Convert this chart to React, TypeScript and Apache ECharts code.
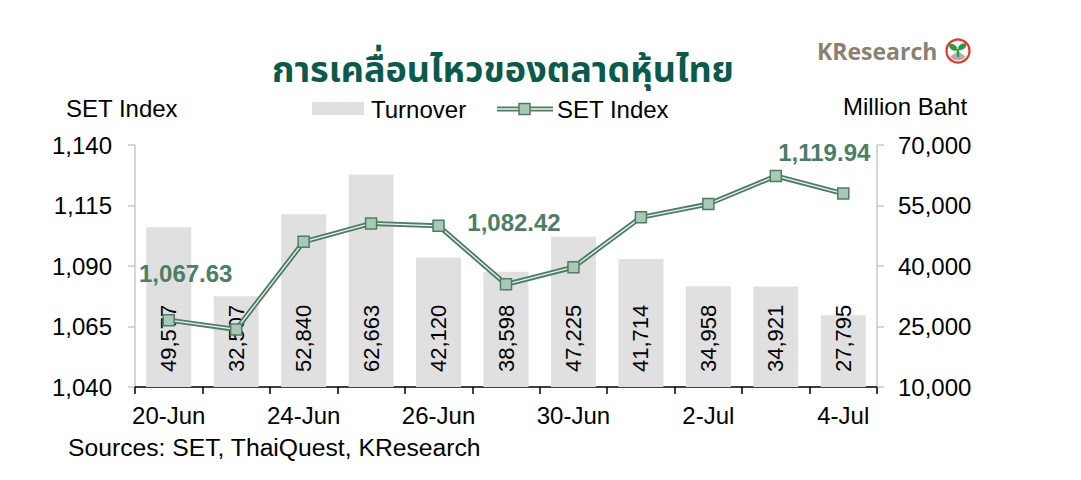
import React, { useEffect, useRef } from "react";
import * as echarts from "echarts";

const categories = ["20-Jun", "21-Jun", "24-Jun", "25-Jun", "26-Jun", "27-Jun", "30-Jun", "1-Jul", "2-Jul", "3-Jul", "4-Jul"];
const turnover = [49577, 32507, 52840, 62663, 42120, 38598, 47225, 41714, 34958, 34921, 27795];
const setIndex = [1067.63, 1063.8, 1100.0, 1107.6, 1106.6, 1082.42, 1089.5, 1110.1, 1115.6, 1127.2, 1119.94];
const labeledPoints = [0, 5, 10];
const labelOffsets = [[17, -47], [8, -62], [-19, -41]];

const leftTicks = { min: 1040, max: 1140, interval: 25 };
const rightTicks = { min: 10000, max: 70000, interval: 15000 };

const FONT = "'Liberation Sans', Arial, sans-serif";
const GREEN = "#4e7d66";
const MARK_FILL = "#a9c9b6";
const BAR = "#e0e0e0";

function fmt(v: number, d = 0) {
  return v.toLocaleString("en-US", { minimumFractionDigits: d, maximumFractionDigits: d });
}

export default function App() {
  const ref = useRef<HTMLDivElement>(null);
  useEffect(() => {
    if (!ref.current) return;
    const chart = echarts.init(ref.current, null, { renderer: "svg" });

    const lineData = setIndex.map((v, i) => {
      const k = labeledPoints.indexOf(i);
      if (k < 0) return v;
      return {
        value: v,
        label: {
          show: true,
          position: "inside",
          offset: labelOffsets[k],
          formatter: () => fmt(v, 2),
          color: GREEN,
          fontWeight: "bold",
          fontSize: 24,
          fontFamily: FONT,
        },
      };
    });

    chart.setOption({
      animation: false,
      backgroundColor: "#ffffff",
      grid: { left: 135, right: 204, top: 145, bottom: 93, containLabel: false },
      xAxis: {
        type: "category",
        data: categories,
        axisLine: { lineStyle: { color: "#000", width: 1.5 } },
        axisTick: { show: true, interval: 0, length: 7, lineStyle: { color: "#000", width: 1.5 } },
        axisLabel: { interval: 1, margin: 16, color: "#000", fontSize: 24, fontFamily: FONT },
        splitLine: { show: false },
      },
      yAxis: [
        {
          type: "value",
          min: leftTicks.min,
          max: leftTicks.max,
          interval: leftTicks.interval,
          axisLine: { show: true, lineStyle: { color: "#c8c8c8", width: 1.5 } },
          axisTick: { show: true, length: 7, lineStyle: { color: "#c8c8c8", width: 1.5 } },
          axisLabel: { margin: 23, color: "#000", fontSize: 24, fontFamily: FONT, formatter: (v: number) => fmt(v) },
          splitLine: { show: false },
        },
        {
          type: "value",
          min: rightTicks.min,
          max: rightTicks.max,
          interval: rightTicks.interval,
          position: "right",
          axisLine: { show: true, lineStyle: { color: "#c8c8c8", width: 1.5 } },
          axisTick: { show: true, length: 7, lineStyle: { color: "#c8c8c8", width: 1.5 } },
          axisLabel: { margin: 21, color: "#000", fontSize: 24, fontFamily: FONT, formatter: (v: number) => fmt(v) },
          splitLine: { show: false },
        },
      ],
      series: [
        {
          name: "Turnover",
          type: "bar",
          yAxisIndex: 1,
          data: turnover,
          barWidth: 45,
          itemStyle: { color: BAR },
          label: {
            show: true,
            position: "insideBottom",
            distance: 15,
            rotate: 90,
            align: "left",
            verticalAlign: "middle",
            color: "#000",
            fontSize: 22,
            fontFamily: FONT,
            formatter: (p: any) => fmt(p.value),
          },
        },
        {
          name: "SET Index outer",
          type: "line",
          yAxisIndex: 0,
          data: setIndex,
          symbol: "none",
          lineStyle: { color: GREEN, width: 5 },
          z: 3,
        },
        {
          name: "SET Index",
          type: "line",
          yAxisIndex: 0,
          data: lineData,
          symbol: "rect",
          symbolSize: 11,
          itemStyle: { color: MARK_FILL, borderColor: GREEN, borderWidth: 1.5 },
          lineStyle: { color: "#eef4f0", width: 1.3 },
          z: 4,
        },
      ],
      graphic: [
        {
          type: "text",
          style: {
            x: 503,
            y: 71,
            text: "การเคลื่อนไหวของตลาดหุ้นไทย",
            align: "center",
            verticalAlign: "middle",
            lineHeight: 34,
            fill: "#0b5a4b",
            font: "bold 36px 'Noto Sans Thai', 'Loma', 'Tlwg Typo', 'Noto Sans', sans-serif",
          },
        },
        // logo
        {
          type: "text",
          style: {
            x: 817,
            y: 51,
            text: "KResearch",
            align: "left",
            verticalAlign: "middle",
            fill: "#8b8074",
            font: "bold 23px 'Open Sans', 'Liberation Sans', sans-serif",
          },
        },
        { type: "circle", shape: { cx: 958, cy: 51, r: 11.5 }, style: { fill: "#fff", stroke: "#e2352b", lineWidth: 2.2 } },
        { type: "sector", shape: { cx: 958, cy: 51, r: 9.5, r0: 0, startAngle: Math.PI * 0.2, endAngle: Math.PI * 0.8 }, style: { fill: "#b8b0a8" } },
        { type: "ellipse", shape: { cx: 953.5, cy: 47, rx: 4.6, ry: 2.8 }, rotation: -0.6, originX: 953.5, originY: 47, style: { fill: "#2e9a48" } },
        { type: "ellipse", shape: { cx: 962.5, cy: 47, rx: 4.6, ry: 2.8 }, rotation: 0.6, originX: 962.5, originY: 47, style: { fill: "#2e9a48" } },
        { type: "rect", shape: { x: 956.9, y: 49, width: 2.3, height: 8 }, style: { fill: "#2e9a48" } },
        // axis names
        { type: "text", style: { x: 66, y: 108, text: "SET Index", verticalAlign: "middle", fill: "#000", font: `24px ${FONT}` } },
        { type: "text", style: { x: 843, y: 106, text: "Million Baht", verticalAlign: "middle", fill: "#000", font: `24px ${FONT}` } },
        // legend
        { type: "rect", shape: { x: 312, y: 102, width: 52, height: 13 }, style: { fill: BAR } },
        { type: "text", style: { x: 371, y: 109, text: "Turnover", verticalAlign: "middle", fill: "#000", font: `24px ${FONT}` } },
        { type: "line", shape: { x1: 497, y1: 109, x2: 553, y2: 109 }, style: { stroke: GREEN, lineWidth: 5 } },
        { type: "line", shape: { x1: 497, y1: 109, x2: 553, y2: 109 }, style: { stroke: "#eef4f0", lineWidth: 1.3 } },
        { type: "rect", shape: { x: 519, y: 103.5, width: 11, height: 11 }, style: { fill: MARK_FILL, stroke: GREEN, lineWidth: 1.5 } },
        { type: "text", style: { x: 557, y: 109, text: "SET Index", verticalAlign: "middle", fill: "#000", font: `24px ${FONT}` } },
        // source
        { type: "text", style: { x: 68, y: 447, text: "Sources: SET, ThaiQuest, KResearch", verticalAlign: "middle", fill: "#000", font: `24.7px ${FONT}` } },
      ],
    });
    return () => chart.dispose();
  }, []);
  return <div ref={ref} style={{ position: "absolute", left: 0, top: 0, width: 1081, height: 480 }} />;
}
